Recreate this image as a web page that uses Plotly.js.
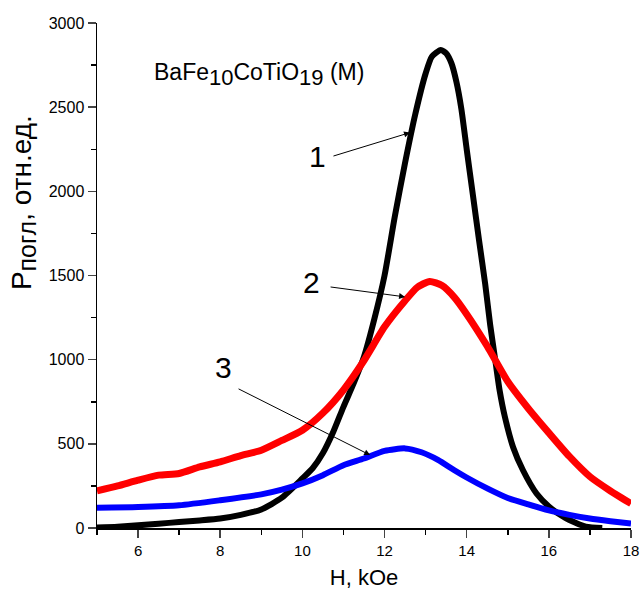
<!DOCTYPE html>
<html>
<head>
<meta charset="utf-8">
<script src="https://cdn.plot.ly/plotly-3.0.1.min.js"></script>
<style>html,body{margin:0;padding:0;background:#fff;}#chart{width:641px;height:597px;}</style>
</head>
<body>
<div id="chart"></div>
<script>
// Curve 1 (black)
const H1 = [5, 5.5, 6, 6.5, 7, 7.5, 8, 8.5, 9, 9.5, 10, 10.25, 10.5, 10.75, 11, 11.25, 11.5, 11.75, 12, 12.25, 12.5, 12.75, 13, 13.15, 13.37, 13.5, 13.63, 13.75, 13.87, 14, 14.15, 14.3, 14.45, 14.57, 14.7, 14.8, 14.93, 15.13, 15.37, 15.7, 16.0, 16.4, 16.9, 17.3];
const P1 = [3, 8, 16, 25, 36, 45, 56, 78, 110, 180, 294, 355, 445, 570, 720, 860, 1018, 1240, 1500, 1850, 2170, 2460, 2700, 2800, 2840, 2820, 2760, 2650, 2490, 2250, 1980, 1710, 1450, 1210, 990, 820, 660, 480, 343, 205, 128, 60, 8, 0];
// Curve 2 (red)
const H2 = [5, 5.5, 6, 6.5, 7, 7.5, 8, 8.5, 9, 9.5, 10, 10.5, 11, 11.5, 12, 12.5, 12.8, 13.1, 13.4, 13.7, 14, 14.5, 15, 15.5, 16, 16.5, 17, 17.5, 18];
const P2 = [220, 250, 284, 314, 324, 363, 393, 430, 462, 520, 581, 683, 820, 995, 1195, 1350, 1430, 1465, 1440, 1370, 1270, 1080, 870, 710, 565, 425, 305, 220, 145];
// Curve 3 (blue)
const H3 = [5, 6, 7, 8, 9, 9.5, 10, 10.5, 11, 11.5, 12, 12.5, 12.9, 13.3, 13.7, 14, 14.5, 15, 15.5, 16, 16.5, 17, 17.5, 18];
const P3 = [121, 125, 135, 165, 200, 228, 265, 314, 373, 413, 458, 473, 450, 405, 343, 300, 235, 178, 140, 105, 78, 56, 40, 26];

const xTicks = [6, 8, 10, 12, 14, 16, 18];
const yTicks = [0, 500, 1000, 1500, 2000, 2500, 3000];

const FONT = 'Arial, "Liberation Sans", sans-serif';

const traces = [
  {x: H1, y: P1, mode: 'lines', line: {color: '#000000', width: 6, shape: 'spline', smoothing: 0.6}, name: '1'},
  {x: H2, y: P2, mode: 'lines', line: {color: '#ff0000', width: 7, shape: 'spline', smoothing: 0.6}, name: '2'},
  {x: H3, y: P3, mode: 'lines', line: {color: '#0000ff', width: 6, shape: 'spline', smoothing: 0.6}, name: '3'}
];

const arrowStyle = {showarrow: true, arrowhead: 2, arrowsize: 1.2, arrowwidth: 1, arrowcolor: '#000', axref: 'x', ayref: 'y', text: '', standoff: 0, startstandoff: 0};

const layout = {
  width: 641, height: 597,
  margin: {l: 97, r: 10, t: 23, b: 69},
  paper_bgcolor: '#fff', plot_bgcolor: '#fff',
  showlegend: false,
  font: {family: FONT, color: '#000'},
  xaxis: {
    range: [5, 18], tickvals: xTicks, ticks: 'outside', ticklen: 8, tickwidth: 1.5,
    showline: true, linecolor: '#000', linewidth: 1.5, showgrid: false, zeroline: false,
    tickfont: {size: 15, family: FONT},
    minor: {dtick: 1, ticks: 'outside', ticklen: 5, tickwidth: 1.5, tickcolor: '#000'},
    title: {text: 'H, kOe', font: {size: 22, family: FONT}, standoff: 12}
  },
  yaxis: {
    range: [0, 3000], tickvals: yTicks, ticks: 'outside', ticklen: 8, tickwidth: 1.5,
    showline: true, linecolor: '#000', linewidth: 1.5, showgrid: false, zeroline: false,
    tickfont: {size: 16, family: FONT},
    minor: {dtick: 250, ticks: 'outside', ticklen: 5, tickwidth: 1.5, tickcolor: '#000'}
  },
  annotations: [
    {xref: 'paper', yref: 'paper', x: -0.137, y: 0.645, xanchor: 'center', yanchor: 'middle', textangle: -90, showarrow: false,
     text: 'P<sub><span style="font-size:25px">погл</span></sub>, отн.ед.', font: {size: 28, family: FONT}},
    {xref: 'paper', yref: 'paper', x: 0.103, y: 0.899, xanchor: 'left', yanchor: 'middle', showarrow: false,
     text: 'BaFe<sub><span style="font-size:22px">10</span></sub>CoTiO<sub><span style="font-size:22px">19</span></sub> (M)', font: {size: 23, family: FONT}},
    {x: 10.36, y: 2207, text: '1', showarrow: false, font: {size: 30, family: FONT}},
    {x: 10.21, y: 1457, text: '2', showarrow: false, font: {size: 30, family: FONT}},
    {x: 8.07, y: 951, text: '3', showarrow: false, font: {size: 30, family: FONT}},
    Object.assign({x: 12.62, y: 2349, ax: 10.72, ay: 2207}, arrowStyle),
    Object.assign({x: 12.50, y: 1373, ax: 10.65, ay: 1433}, arrowStyle),
    Object.assign({x: 11.65, y: 433, ax: 8.41, ay: 831}, arrowStyle)
  ]
};

Plotly.newPlot('chart', traces, layout, {displayModeBar: false, staticPlot: true});
</script>
</body>
</html>
